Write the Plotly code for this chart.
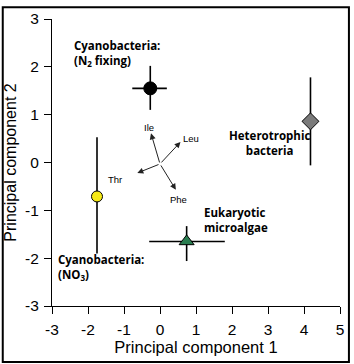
import plotly.graph_objects as go

# Group centroids on the two principal components
groups = ["N2 fixing cyanobacteria", "Heterotrophic bacteria", "NO3 cyanobacteria", "Eukaryotic microalgae"]
pc1 = [-0.27, 4.18, -1.75, 0.74]
pc2 = [1.55, 0.86, -0.71, -1.65]
# error extents (plus / minus)
pc1_plus = [0.46, 0.0, 0.0, 1.06]
pc1_minus = [0.50, 0.0, 0.0, 1.04]
pc2_plus = [0.47, 0.92, 1.24, 0.32]
pc2_minus = [0.45, 0.92, 1.19, 0.41]
marker_symbols = ["circle", "diamond", "circle", "triangle-up"]
marker_colors = ["#000000", "#7a7a7a", "#f7ea16", "#2a7d50"]
marker_sizes = [13, 13, 11, 13]

# Loading vectors (amino acids)
aa_names = ["Ile", "Leu", "Thr", "Phe"]
aa_x = [-0.25, 0.57, -0.63, 0.44]
aa_y = [0.61, 0.43, -0.22, -0.57]
aa_label_x = [-0.30, 0.85, -1.26, 0.52]
aa_label_y = [0.73, 0.51, -0.35, -0.78]
origin = (0.0, -0.03)

# Group labels
label_texts = ["Cyanobacteria:<br>(N<sub>2</sub> fixing)", "Heterotrophic<br>bacteria",
               "Eukaryotic<br>microalgae", "Cyanobacteria:<br>(NO<sub>3</sub>)"]
label_x = [-2.45, 3.03, 1.18, -2.89]
label_y = [2.65, 0.77, -0.84, -1.82]
label_align = ["left", "center", "left", "left"]

x_ticks = [-3, -2, -1, 0, 1, 2, 3, 4, 5]
x_tick_labels = ["-3", "-2", "-1", "0", "1", "2", "3", "4", "5"]
y_ticks = [-3, -2, -1, 0, 1, 2, 3]
y_tick_labels = ["-3", "-2", "-1", "0", "1", "2", "3"]

fig = go.Figure()
for i in range(len(groups)):
    fig.add_trace(go.Scatter(
        x=[pc1[i]], y=[pc2[i]], mode="markers",
        marker=dict(symbol=marker_symbols[i], color=marker_colors[i], size=marker_sizes[i],
                    line=dict(color="black", width=1)),
        error_x=dict(type="data", symmetric=False, array=[pc1_plus[i]], arrayminus=[pc1_minus[i]],
                     color="black", thickness=1.6, width=0, visible=pc1_plus[i] > 0),
        error_y=dict(type="data", symmetric=False, array=[pc2_plus[i]], arrayminus=[pc2_minus[i]],
                     color="black", thickness=1.6, width=0),
        showlegend=False, name=groups[i]))

annotations = []
for i in range(len(aa_names)):
    annotations.append(dict(x=aa_x[i], y=aa_y[i], ax=origin[0], ay=origin[1],
                            xref="x", yref="y", axref="x", ayref="y", text="",
                            showarrow=True, arrowhead=2, arrowsize=1.2, arrowwidth=1,
                            arrowcolor="#222"))
    annotations.append(dict(x=aa_label_x[i], y=aa_label_y[i], xref="x", yref="y", text=aa_names[i],
                            showarrow=False, font=dict(family="Liberation Sans", size=9.5, color="black")))
for i in range(len(label_texts)):
    annotations.append(dict(x=label_x[i], y=label_y[i], xref="x", yref="y", text="<b>" + label_texts[i] + "</b>",
                            showarrow=False, align=label_align[i],
                            xanchor="left" if label_align[i] == "left" else "center",
                            yanchor="top",
                            font=dict(family="Open Sans", size=11.5, color="black")))

fig.update_layout(
    width=354, height=364,
    margin=dict(l=51, r=10, t=13, b=58),
    paper_bgcolor="white", plot_bgcolor="white",
    annotations=annotations,
    font=dict(family="Liberation Sans", color="black"),
    xaxis=dict(range=[-3, 5], tickvals=x_ticks, ticktext=x_tick_labels, showgrid=False, zeroline=False,
               showline=True, linecolor="black", linewidth=1, ticks="outside", ticklen=7,
               tickcolor="black", tickfont=dict(size=15.5), ticklabelstandoff=2,
               title=dict(text="Principal component 1", font=dict(size=16.5), standoff=4)),
    yaxis=dict(range=[-3, 3], tickvals=y_ticks, ticktext=y_tick_labels, showgrid=False, zeroline=False,
               showline=True, linecolor="black", linewidth=1, ticks="outside", ticklen=7,
               tickcolor="black", tickfont=dict(size=15.5), ticklabelstandoff=2,
               title=dict(text="Principal component 2", font=dict(size=16), standoff=4)),
    shapes=[dict(type="rect", xref="paper", yref="paper",
                 x0=-0.171, x1=1.031, y0=-0.195, y1=1.041,
                 line=dict(color="black", width=2), layer="above")],
)
fig.write_html("out.html")
